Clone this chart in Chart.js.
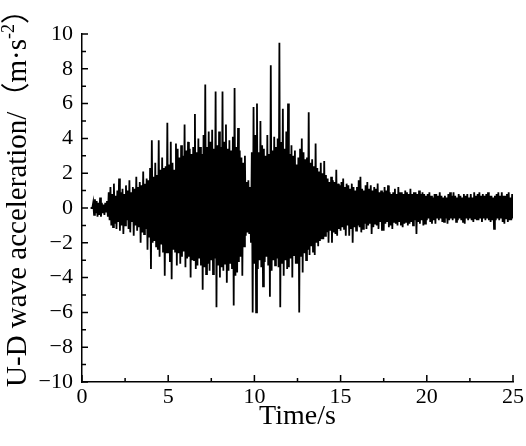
<!DOCTYPE html>
<html><head><meta charset="utf-8">
<script src="https://cdn.jsdelivr.net/npm/chart.js@4.4.1/dist/chart.umd.min.js"></script>
<style>html,body{margin:0;padding:0;background:#fff;}#wrap{width:526px;height:446px;}</style>
</head><body><div id="wrap"><canvas id="c" width="526" height="446"></canvas></div>
<script>
// Sampling of the record (seconds)
const sampleStart = 0.5;
const sampleStep = 0.05;

// U-D acceleration (m·s^-2), one array per 5 s window
const accel_0_5 = [
  0, 0, 0, 0.3, -0.4, 0.5, -0.3, 0.4, -0.5, 0.3,
  -0.4, 0.6, -0.5, 0.3, -0.3, 0.2, -0.4, 0.3, -0.2, 0.4,
  -0.5, 0.9, -0.7, 1.2, -1.0, 0.8, -1.1, 1.4, -0.9, 0.7,
  -1.2, 1.0, -0.8, 1.7, -1.3, 0.9, -1.0, 1.1, -1.5, 0.8,
  -1.0, 1.3, -0.7, 1.0, -1.2, 1.6, -1.4, 0.9, -0.8, 1.2,
  -1.6, 1.1, -1.0, 1.8, -1.3, 1.2, -1.1, 1.5, -2.0, 1.3,
  -1.4, 2.1, -1.5, 1.4, -1.2, 1.7, -2.4, 1.6, -1.7, 2.3,
  -3.5, 3.9, -2.0, 1.8, -1.9, 2.6, -2.2, 1.9, -2.4, 3.9,
  -2.8, 2.2, -2.1, 2.9, -2.5, 2.3, -3.9, 2.4, -2.6, 4.9
];
const accel_5_10 = [
  -2.6, 2.5, -3.1, 3.8, -4.1, 2.6, -2.4, 2.2, -2.5, 3.7,
  -3.3, 3.4, -2.6, 2.9, -3.2, 3.6, -2.8, 3.0, -2.5, 4.8,
  -3.4, 3.3, -2.9, 3.8, -2.8, 3.4, -4.0, 3.1, -3.0, 3.5,
  -3.0, 5.4, -3.5, 3.2, -3.3, 4.0, -2.9, 3.5, -3.3, 3.1,
  -4.7, 4.2, -3.4, 7.1, -3.8, 3.5, -3.2, 4.4, -3.6, 3.8,
  -3.0, 4.5, -3.8, 3.4, -2.9, 6.7, -5.7, 3.6, -3.3, 4.4,
  -4.0, 3.5, -3.4, 6.7, -3.6, 3.8, -3.2, 4.8, -4.3, 3.4,
  -3.6, 3.9, -3.2, 3.3, -3.5, 4.1, -5.6, 6.9, -3.9, 3.5,
  -3.7, 4.6, -3.1, 3.3, -2.8, 2.9, -3.9, 2.6, -2.2, 3.0,
  -1.6, 1.5, -1.4, 1.6, -1.5, 1.2, -2.0, 3.2, -6.0, 5.8
];
const accel_10_15 = [
  -3.2, 4.2, -6.0, 6.0, -3.5, 3.2, -3.0, 5.0, -3.4, 3.6,
  -4.5, 3.4, -3.1, 3.0, -2.8, 4.2, -3.3, 3.1, -5.1, 8.2,
  -3.6, 3.3, -3.0, 4.1, -3.3, 3.5, -2.9, 4.0, -3.4, 9.5,
  -5.7, 3.8, -3.2, 5.7, -3.9, 3.4, -3.0, 4.4, -3.5, 6.0,
  -3.4, 3.1, -2.9, 3.6, -4.0, 3.0, -2.7, 3.3, -3.2, 2.5,
  -3.2, 2.9, -6.0, 3.4, -2.8, 4.0, -3.7, 3.2, -2.6, 2.8,
  -3.0, 2.9, -2.4, 5.5, -2.7, 2.6, -2.2, 2.8, -2.5, 2.4,
  -2.7, 3.7, -2.0, 2.3, -2.2, 2.1, -1.9, 2.6, -1.8, 2.0,
  -1.8, 2.7, -1.6, 1.9, -1.4, 1.7, -2.0, 1.5, -1.3, 1.8,
  -2.0, 1.6, -1.4, 1.5, -1.5, 2.2, -1.6, 1.4, -1.2, 1.3
];
const accel_15_20 = [
  -1.3, 1.5, -1.1, 1.7, -1.2, 1.2, -1.6, 1.4, -1.0, 1.3,
  -1.6, 1.1, -1.2, 1.4, -2.0, 1.2, -1.1, 1.0, -1.3, 1.2,
  -1.0, 1.6, -1.1, 1.8, -1.4, 1.1, -1.2, 1.0, -0.9, 1.3,
  -1.2, 1.5, -1.0, 1.1, -0.9, 1.3, -1.5, 1.0, -1.1, 1.2,
  -0.9, 1.1, -1.0, 1.4, -1.2, 0.9, -0.8, 1.0, -1.3, 0.9,
  -1.3, 1.2, -0.9, 1.0, -0.8, 1.3, -1.1, 0.9, -1.0, 0.8,
  -1.2, 0.9, -0.8, 1.1, -0.9, 0.8, -1.0, 1.2, -0.8, 0.9,
  -1.0, 0.9, -1.1, 0.8, -0.9, 1.0, -0.8, 0.9, -1.0, 0.8,
  -0.9, 1.1, -0.8, 0.8, -1.0, 0.9, -0.7, 0.9, -1.5, 0.8,
  -0.8, 1.0, -0.9, 0.8, -0.7, 0.9, -1.0, 0.8, -0.9, 0.7
];
const accel_20_25 = [
  -0.7, 0.8, -0.6, 0.9, -0.8, 0.7, -0.9, 0.6, -0.7, 0.8,
  -0.9, 0.8, -0.6, 0.7, -0.7, 0.9, -0.6, 0.7, -0.8, 0.6,
  -0.8, 0.7, -0.6, 0.6, -0.9, 0.8, -0.7, 0.9, -0.6, 0.7,
  -0.7, 0.9, -0.6, 0.7, -0.8, 0.6, -0.7, 0.8, -0.6, 0.7,
  -0.7, 0.6, -0.8, 0.8, -0.9, 0.7, -0.6, 0.8, -0.7, 0.6,
  -0.6, 0.8, -0.7, 0.6, -0.8, 0.9, -0.6, 0.7, -0.7, 0.8,
  -0.7, 0.9, -0.6, 0.7, -0.8, 0.8, -0.6, 0.7, -0.7, 0.8,
  -0.6, 0.9, -0.7, 0.7, -0.8, 0.7, -0.7, 0.6, -1.2, 0.7,
  -0.7, 0.8, -0.6, 0.9, -0.7, 0.7, -0.6, 0.9, -0.8, 0.7,
  -0.9, 0.7, -0.6, 0.8, -0.8, 0.9, -0.7, 0.6, -0.7, 0.8,
  -0.6
];

// Axis ticks
const xMajorTicks = [0, 5, 10, 15, 20, 25];
const xMinorTicks = [2.5, 7.5, 12.5, 17.5, 22.5];
const yMajorTicks = [-10, -8, -6, -4, -2, 0, 2, 4, 6, 8, 10];
const yMinorTicks = [-9, -7, -5, -3, -1, 1, 3, 5, 7, 9];

// Texts
const xTitle = 'Time/s';
const yTitleMain = 'U-D wave acceleration/\uFF08m\u00B7s';
const yTitleSup = '-2';
const yTitleEnd = '\uFF09';

const accel = [...accel_0_5, ...accel_5_10, ...accel_10_15, ...accel_15_20, ...accel_20_25];
const points = accel.map((v, i) => ({ x: +(sampleStart + i * sampleStep).toFixed(2), y: v }));

const serif = '"Liberation Serif", "Times New Roman", "Noto Sans CJK SC", serif';

const decor = {
  id: 'decor',
  afterDraw(chart) {
    const { ctx, chartArea: a, scales: { x, y } } = chart;
    ctx.save();
    ctx.strokeStyle = '#000';
    ctx.lineWidth = 1.5;
    ctx.beginPath();
    yMajorTicks.forEach(v => { const p = y.getPixelForValue(v); ctx.moveTo(a.left, p); ctx.lineTo(a.left + 6, p); });
    yMinorTicks.forEach(v => { const p = y.getPixelForValue(v); ctx.moveTo(a.left, p); ctx.lineTo(a.left + 4, p); });
    xMajorTicks.forEach(v => { const p = x.getPixelForValue(v); ctx.moveTo(p, a.bottom); ctx.lineTo(p, a.bottom - 7); });
    xMinorTicks.forEach(v => { const p = x.getPixelForValue(v); ctx.moveTo(p, a.bottom); ctx.lineTo(p, a.bottom - 4); });
    ctx.stroke();
    ctx.restore();

    // rotated y title with superscript
    ctx.save();
    ctx.translate(26, 191);
    ctx.rotate(-Math.PI / 2);
    ctx.fillStyle = '#000';
    ctx.textAlign = 'left';
    ctx.textBaseline = 'alphabetic';
    const f1 = '29px ' + serif, f2 = '18px ' + serif;
    ctx.font = f1;
    const w1 = ctx.measureText(yTitleMain).width;
    const w3 = ctx.measureText(yTitleEnd).width;
    ctx.font = f2;
    const w2 = ctx.measureText(yTitleSup).width;
    let sx = -(w1 + w2 + w3) / 2;
    ctx.font = f1; ctx.fillText(yTitleMain, sx, 0); sx += w1;
    ctx.font = f2; ctx.fillText(yTitleSup, sx, -12); sx += w2;
    ctx.font = f1; ctx.fillText(yTitleEnd, sx, 0);
    ctx.restore();
  }
};

new Chart(document.getElementById('c'), {
  type: 'line',
  data: {
    datasets: [{
      data: points,
      borderColor: '#000',
      borderWidth: 1.8,
      pointRadius: 0,
      tension: 0,
      fill: false
    }]
  },
  options: {
    responsive: false,
    animation: false,
    devicePixelRatio: 1,
    layout: { padding: { top: 34, right: 13, left: 0, bottom: 0 } },
    plugins: { legend: { display: false }, tooltip: { enabled: false } },
    scales: {
      x: {
        type: 'linear', min: 0, max: 25,
        afterFit(s) { s.height = 64; },
        afterBuildTicks(s) { s.ticks = xMajorTicks.map(v => ({ value: v })); },
        grid: { display: false, drawTicks: false },
        border: { display: true, color: '#000', width: 1.5 },
        ticks: { color: '#000', padding: 2, maxRotation: 0, font: { family: serif, size: 22 } },
        title: { display: true, text: xTitle, color: '#000', font: { family: serif, size: 28 }, padding: { top: 0, bottom: 13 } }
      },
      y: {
        type: 'linear', min: -10, max: 10,
        afterFit(s) { s.width = 82; },
        afterBuildTicks(s) { s.ticks = yMajorTicks.map(v => ({ value: v })); },
        grid: { display: false, drawTicks: false },
        border: { display: true, color: '#000', width: 1.5 },
        ticks: { color: '#000', padding: 9, font: { family: serif, size: 22 },
          callback: v => String(v).replace('-', '\u2212') }
      }
    }
  },
  plugins: [decor]
});
</script></body></html>
